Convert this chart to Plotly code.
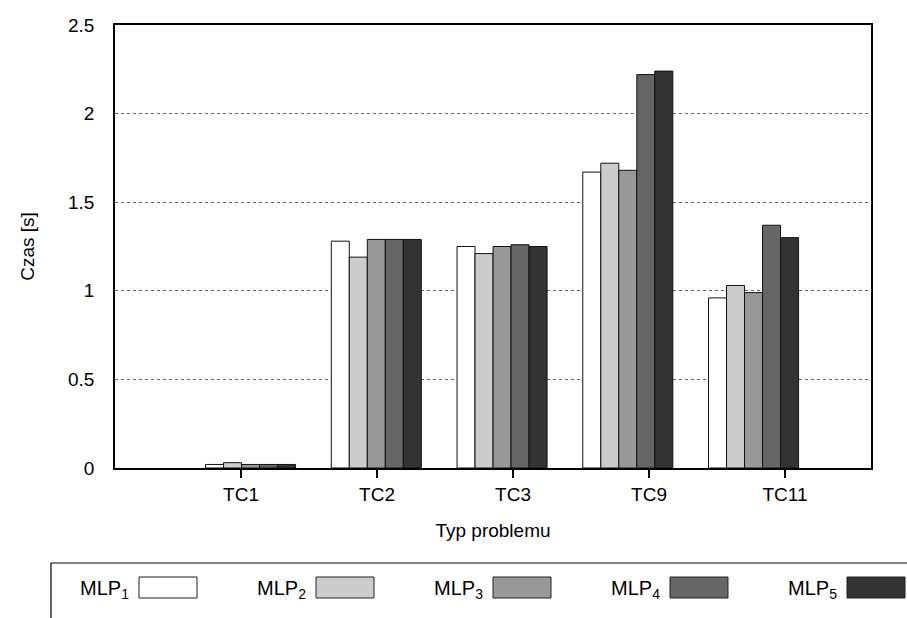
import plotly.graph_objects as go

categories = ["TC1", "TC2", "TC3", "TC9", "TC11"]
series_names = ["MLP<sub>1</sub>", "MLP<sub>2</sub>", "MLP<sub>3</sub>", "MLP<sub>4</sub>", "MLP<sub>5</sub>"]
mlp1 = [0.02, 1.28, 1.25, 1.67, 0.96]
mlp2 = [0.03, 1.19, 1.21, 1.72, 1.03]
mlp3 = [0.02, 1.29, 1.25, 1.68, 0.99]
mlp4 = [0.02, 1.29, 1.26, 2.22, 1.37]
mlp5 = [0.02, 1.29, 1.25, 2.24, 1.30]
series = [mlp1, mlp2, mlp3, mlp4, mlp5]
colors = ["#ffffff", "#cccccc", "#999999", "#666666", "#333333"]
y_ticks = [0, 0.5, 1, 1.5, 2, 2.5]
y_ticklabels = ["0", "0.5", "1", "1.5", "2", "2.5"]

FONT = "Liberation Sans, Arial, sans-serif"
W, H = 907, 618
L, R, T, B = 115, 36, 25, 150
pw, ph = W - L - R, H - T - B

xpos = list(range(len(categories)))

fig = go.Figure()
for name, vals, col in zip(series_names, series, colors):
    fig.add_trace(go.Bar(
        x=xpos, y=vals, name=name, showlegend=False,
        marker=dict(color=col, line=dict(color="#111111", width=1)),
    ))

fig.update_layout(
    width=W, height=H,
    margin=dict(l=L, r=R, t=T, b=B, pad=0),
    barmode="group", bargap=0.284, bargroupgap=0,
    plot_bgcolor="white", paper_bgcolor="white",
    font=dict(family=FONT, size=19, color="black"),
)
fig.update_xaxes(
    range=[-1.078, 4.934],
    tickvals=[-0.0755 + 1.0815 * i for i in xpos], ticktext=categories,
    ticks="outside", ticklen=8, tickwidth=1.5, tickcolor="black",
    showline=True, linecolor="black", linewidth=1.5, mirror=True,
    showgrid=False, zeroline=False,
    title=dict(text="Typ problemu", font=dict(size=19), standoff=20),
)
fig.update_yaxes(
    range=[0, 2.5],
    tickvals=y_ticks, ticktext=y_ticklabels,
    ticks="", ticklabelstandoff=15,
    showline=True, linecolor="black", linewidth=1.5, mirror=True,
    showgrid=True, gridcolor="#666666", griddash="dot", gridwidth=1,
    zeroline=False,
    title=dict(text="Czas [s]", font=dict(size=19), standoff=28),
)

def px_x(p):
    return (p - L) / pw

def px_y(p):
    return (H - B - p) / ph

shapes = []
annotations = []
# legend box (extends past the page edges)
shapes.append(dict(type="rect", xref="paper", yref="paper",
                   x0=px_x(51), x1=px_x(940), y0=px_y(680), y1=px_y(563),
                   line=dict(color="black", width=1.2), fillcolor="rgba(0,0,0,0)"))
for i, (name, col) in enumerate(zip(series_names, colors)):
    tx = 78 + 177 * i
    sx = 139 + 177 * i
    annotations.append(dict(xref="paper", yref="paper", x=px_x(tx), y=px_y(589),
                            xanchor="left", yanchor="middle", showarrow=False,
                            text=name, font=dict(size=20, family=FONT)))
    shapes.append(dict(type="rect", xref="paper", yref="paper",
                       x0=px_x(sx), x1=px_x(sx + 58), y0=px_y(598), y1=px_y(577),
                       line=dict(color="#222222", width=1), fillcolor=col))
fig.update_layout(shapes=shapes, annotations=annotations)

fig.write_html("out.html")
